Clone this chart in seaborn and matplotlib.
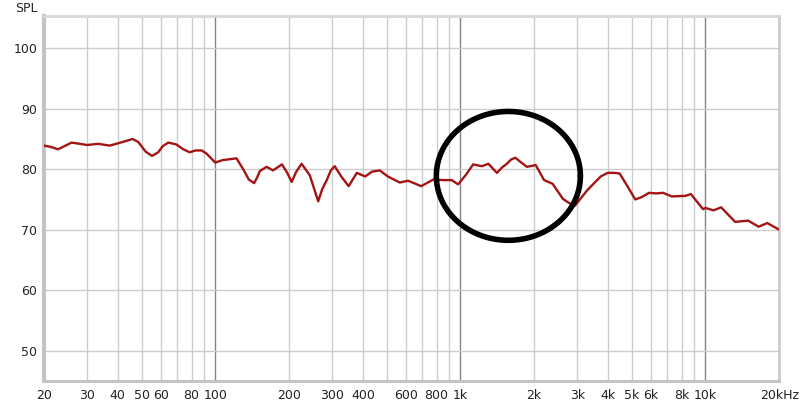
import numpy as np
import pandas as pd
import matplotlib
matplotlib.use("Agg")
import matplotlib.pyplot as plt
import seaborn as sns

# --- DATA ---
freq_hz = [20, 21.3, 22.8, 24.2, 25.9, 28, 30, 33.3, 37.1, 41, 43.5, 46, 48.5, 52, 55.2,
           58.5, 61, 64.3, 69.3, 74, 78.6, 83, 88, 92,
           100, 107, 122, 130, 137, 144, 148, 152, 162, 172, 187, 196, 205, 214, 225,
           243, 253, 263, 273, 285, 296, 307, 328, 350, 378, 409, 436, 469, 506, 566,
           612, 692, 776, 853, 922, 979, 1050, 1128, 1223, 1301, 1410, 1480, 1548, 1610,
           1677, 1760, 1869, 1928, 2029, 2196, 2378, 2621, 2780, 2939, 3289, 3737, 3991,
           4230, 4464, 4690, 5175, 5500, 5893, 6291, 6720, 7285, 8296, 8718, 9779, 10000,
           10790, 11590, 13220, 14950, 16480, 17890, 20000]
spl_db = [83.9, 83.7, 83.3, 83.8, 84.4, 84.2, 84.0, 84.2, 83.9, 84.4, 84.7, 85.0, 84.5, 82.9, 82.2,
          82.8, 83.8, 84.4, 84.1, 83.3, 82.8, 83.1, 83.1, 82.6,
          81.1, 81.5, 81.8, 80.0, 78.3, 77.7, 78.6, 79.7, 80.4, 79.8, 80.8, 79.5, 77.9, 79.6, 80.9,
          79.0, 76.8, 74.7, 76.7, 78.2, 79.8, 80.5, 78.7, 77.2, 79.4, 78.8, 79.6, 79.8, 78.8, 77.8,
          78.1, 77.2, 78.3, 78.2, 78.2, 77.5, 79.0, 80.8, 80.5, 80.9, 79.4, 80.3, 80.9, 81.6,
          81.9, 81.2, 80.4, 80.5, 80.7, 78.2, 77.6, 75.1, 74.4, 74.0, 76.5, 78.8, 79.4,
          79.4, 79.3, 77.9, 75.0, 75.4, 76.1, 76.0, 76.1, 75.5, 75.6, 75.9, 73.4, 73.6,
          73.2, 73.7, 71.3, 71.5, 70.5, 71.1, 70.0]

x_ticks = [20, 30, 40, 50, 60, 80, 100, 200, 300, 400, 600, 800,
           1000, 2000, 3000, 4000, 5000, 6000, 8000, 10000, 20000]
x_labels = ["20", "30", "40", "50", "60", "80", "100", "200", "300", "400", "600", "800",
            "1k", "2k", "3k", "4k", "5k", "6k", "8k", "10k", "20kHz"]
y_ticks = [50, 60, 70, 80, 90, 100]

# highlight ellipse (centre in Hz / dB, half-sizes in decades / dB)
ELL_HZ, ELL_DB = 1570, 78.9
ELL_DEC, ELL_HDB = 0.294, 10.65

df = pd.DataFrame({"freq": freq_hz, "spl": spl_db})

sns.set_style("white")
plt.rcParams["font.family"] = ["DejaVu Sans"]

fig = plt.figure(figsize=(8, 4.04), dpi=100)
ax = fig.add_axes([0.055, 0.057, 0.919, 0.903])
ax.set_xscale("log")
ax.set_xlim(20, 20000)
ax.set_ylim(45, 105.3)

# grid: minor light, decades darker
minor = [m * 10 ** d for d in range(1, 5) for m in range(2, 10) if 20 <= m * 10 ** d <= 20000]
for f in minor:
    ax.axvline(f, color="#cccccc", lw=1, zorder=0)
for f in [100, 1000, 10000]:
    ax.axvline(f, color="#858585", lw=1, zorder=0)
for y in y_ticks:
    ax.axhline(y, color="#cccccc", lw=1, zorder=0)

sns.lineplot(data=df, x="freq", y="spl", ax=ax, color="#a31414", lw=1.7, zorder=3,
             solid_joinstyle="round")

t = np.linspace(0, 2 * np.pi, 300)
ex = ELL_HZ * 10 ** (ELL_DEC * np.cos(t))
ey = ELL_DB + ELL_HDB * np.sin(t)
ax.plot(ex, ey, color="black", lw=4, zorder=4)

ax.set_xticks(x_ticks)
ax.set_xticklabels(x_labels)
ax.xaxis.set_minor_locator(matplotlib.ticker.NullLocator())
ax.set_yticks(y_ticks)
ax.tick_params(axis="both", length=0, labelsize=9, colors="#222222")
ax.tick_params(axis="x", pad=6)
ax.tick_params(axis="y", pad=5)
ax.set_xlabel("")
ax.set_ylabel("")

for side, col, w in [("left", "#c4c4c4", 3), ("bottom", "#c4c4c4", 2.2),
                     ("top", "#d8d8d8", 2), ("right", "#c8c8c8", 1.8)]:
    ax.spines[side].set_visible(True)
    ax.spines[side].set_color(col)
    ax.spines[side].set_linewidth(w)

fig.text(0.019, 0.978, "SPL", fontsize=9, color="#222222", va="center", ha="left")

fig.savefig("out.png", dpi=100)
